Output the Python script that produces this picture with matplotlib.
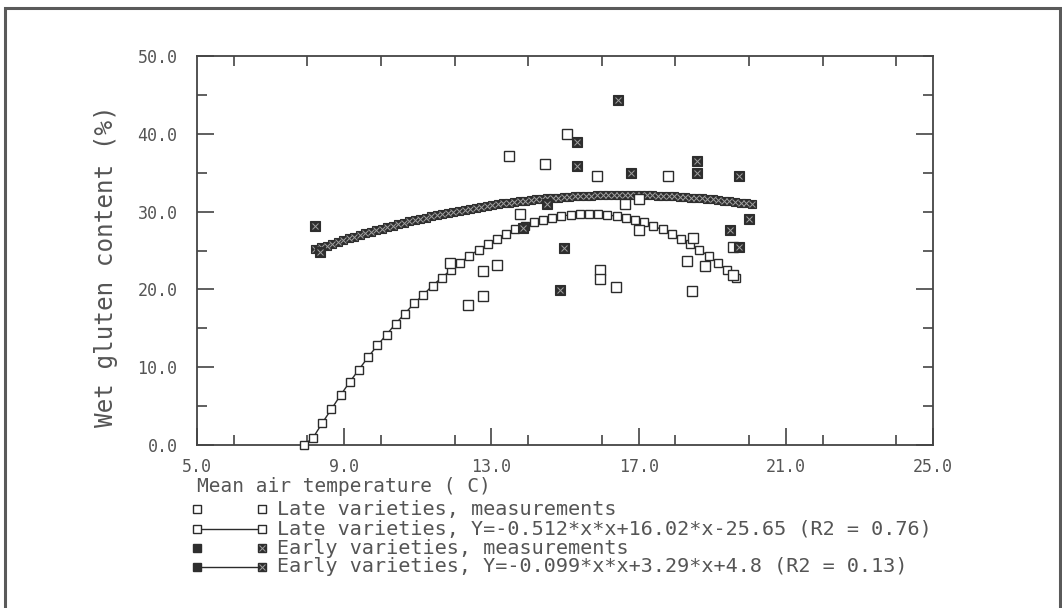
import matplotlib
matplotlib.use("Agg")
import matplotlib.pyplot as plt
from matplotlib.lines import Line2D
from matplotlib.patches import Rectangle
from matplotlib.ticker import MultipleLocator, FixedLocator

# ---- data ----
late_x = [11.88, 12.37, 12.76, 12.78, 13.14, 13.49, 13.78, 14.46, 15.05, 15.86, 15.95, 15.95,
          16.39, 16.63, 17.02, 17.02, 17.79, 18.31, 18.44, 18.49, 18.80, 19.56, 19.56]
late_y = [23.4, 18.0, 19.1, 22.4, 23.2, 37.1, 29.7, 36.1, 40.0, 34.6, 22.5, 21.4,
          20.3, 31.0, 31.6, 27.6, 34.6, 23.6, 19.8, 26.6, 23.0, 25.5, 21.9]

early_x = [8.21, 8.34, 13.85, 14.52, 14.86, 14.96, 15.32, 15.32, 16.45, 16.79,
           18.60, 18.60, 19.48, 19.73, 19.74, 19.99]
early_y = [28.1, 24.8, 27.9, 31.0, 19.9, 25.3, 39.0, 35.8, 44.4, 34.9,
           36.5, 35.0, 27.6, 34.6, 25.5, 29.0]

late_fit_x = [7.90, 8.15, 8.40, 8.65, 8.90, 9.15, 9.40, 9.65, 9.90, 10.15, 10.40, 10.65,
              10.90, 11.15, 11.40, 11.65, 11.90, 12.15, 12.40, 12.65, 12.90, 13.15, 13.40, 13.65,
              13.90, 14.15, 14.40, 14.65, 14.90, 15.15, 15.40, 15.65, 15.90, 16.15, 16.40, 16.65,
              16.90, 17.15, 17.40, 17.65, 17.90, 18.15, 18.40, 18.65, 18.90, 19.15, 19.40, 19.65]
late_fit_y = [0.0, 0.9, 2.8, 4.6, 6.4, 8.1, 9.7, 11.3, 12.8, 14.2, 15.6, 16.9,
              18.2, 19.3, 20.5, 21.5, 22.5, 23.4, 24.3, 25.1, 25.8, 26.5, 27.1, 27.7,
              28.1, 28.6, 28.9, 29.2, 29.4, 29.6, 29.7, 29.7, 29.7, 29.6, 29.4, 29.2,
              28.9, 28.6, 28.1, 27.7, 27.1, 26.5, 25.8, 25.1, 24.3, 23.4, 22.5, 21.5]

early_fit_x = [8.22, 8.37, 8.52, 8.67, 8.82, 8.97, 9.12, 9.27, 9.42, 9.57,
               9.72, 9.87, 10.02, 10.17, 10.32, 10.47, 10.62, 10.77, 10.92, 11.07,
               11.22, 11.37, 11.52, 11.67, 11.82, 11.97, 12.12, 12.27, 12.42, 12.57,
               12.72, 12.87, 13.02, 13.17, 13.32, 13.47, 13.62, 13.77, 13.92, 14.07,
               14.22, 14.37, 14.52, 14.67, 14.82, 14.97, 15.12, 15.27, 15.42, 15.57,
               15.72, 15.87, 16.02, 16.17, 16.32, 16.47, 16.62, 16.77, 16.92, 17.07,
               17.22, 17.37, 17.52, 17.67, 17.82, 17.97, 18.12, 18.27, 18.42, 18.57,
               18.72, 18.87, 19.02, 19.17, 19.32, 19.47, 19.62, 19.77, 19.92, 20.07]
early_fit_y = [25.14, 25.39, 25.63, 25.87, 26.11, 26.34, 26.56, 26.78, 27.00, 27.21,
               27.42, 27.62, 27.82, 28.01, 28.20, 28.39, 28.57, 28.74, 28.91, 29.08,
               29.24, 29.40, 29.56, 29.70, 29.85, 29.99, 30.13, 30.26, 30.38, 30.51,
               30.62, 30.74, 30.85, 30.95, 31.05, 31.15, 31.24, 31.33, 31.41, 31.49,
               31.56, 31.63, 31.69, 31.75, 31.81, 31.86, 31.91, 31.95, 31.99, 32.02,
               32.05, 32.07, 32.09, 32.11, 32.12, 32.13, 32.13, 32.13, 32.12, 32.11,
               32.09, 32.07, 32.05, 32.02, 31.99, 31.95, 31.91, 31.86, 31.81, 31.75,
               31.69, 31.63, 31.56, 31.49, 31.41, 31.33, 31.24, 31.15, 31.05, 30.95]

x_ticks = [5.0, 9.0, 13.0, 17.0, 21.0, 25.0]
y_ticks = [0.0, 10.0, 20.0, 30.0, 40.0, 50.0]

legend_labels = [
    "Late varieties, measurements",
    "Late varieties, Y=-0.512*x*x+16.02*x-25.65 (R2 = 0.76)",
    "Early varieties, measurements",
    "Early varieties, Y=-0.099*x*x+3.29*x+4.8 (R2 = 0.13)",
]

# ---- style ----
INK = "#2b2b2b"
TXT = "#555555"
FILL = "#2e2e2e"
HATCH = "#a0a0a0"
plt.rcParams['font.family'] = ['DejaVu Sans Mono']

W, H = 1062, 608
fig = plt.figure(figsize=(W / 100, H / 100), dpi=100)
ax = fig.add_axes([197 / W, 1 - 445 / H, 736 / W, 389 / H])

# outer frame of the figure panel
fig.add_artist(Rectangle((5 / W, -0.05), 1055 / W, 1.05 - 8 / H, transform=fig.transFigure,
                         fill=False, lw=2.2, ec="#5a5a5a"))


def early_marker(a, xs, ys, ms=6.2, **kw):
    a.plot(xs, ys, ls="none", marker="s", ms=ms, mfc=FILL, mec=FILL, mew=0.8, **kw)
    a.plot(xs, ys, ls="none", marker="x", ms=ms * 0.6, mec=HATCH, mew=0.7, **kw)


# fitted curves
ax.plot(late_fit_x, late_fit_y, color=INK, lw=1.0, marker="s", ms=6.2,
        mfc="white", mec=INK, mew=1.0, clip_on=False, zorder=3)
ax.plot(early_fit_x, early_fit_y, color=INK, lw=1.0, zorder=3)
early_marker(ax, early_fit_x, early_fit_y, zorder=3)

# measurements
ax.plot(late_x, late_y, ls="none", marker="s", ms=6.8, mfc="white", mec=INK, mew=1.0, zorder=4)
early_marker(ax, early_x, early_y, ms=6.8, zorder=4)

ax.set_xlim(5, 25)
ax.set_ylim(0, 50)
for s in ax.spines.values():
    s.set_color("#444444")
    s.set_linewidth(1.3)

ax.xaxis.set_major_locator(FixedLocator(x_ticks))
ax.xaxis.set_minor_locator(MultipleLocator(2))
ax.yaxis.set_major_locator(FixedLocator(y_ticks))
ax.yaxis.set_minor_locator(MultipleLocator(5))
ax.set_xticklabels([f"{v:.1f}" for v in x_ticks])
ax.set_yticklabels([f"{v:.1f}" for v in y_ticks])
ax.tick_params(which="both", direction="in", color="#444444", width=1.2,
               labelsize=12, labelcolor=TXT, top=True, right=False)
ax.tick_params(which="major", length=12)
ax.tick_params(which="minor", length=7)
ax.tick_params(axis="x", which="both", pad=9)
ax.tick_params(axis="y", which="both", pad=14)
ax.tick_params(axis="x", which="major", top=False)

# right side ticks: long every 20, short every 5
sec = ax.secondary_yaxis("right")
sec.yaxis.set_major_locator(FixedLocator([0, 20, 40]))
sec.yaxis.set_minor_locator(MultipleLocator(5))
sec.tick_params(which="both", direction="in", color="#444444", width=1.2, labelright=False)
sec.tick_params(which="major", length=12)
sec.tick_params(which="minor", length=7)
sec.spines["right"].set_visible(False)

# axis titles
fig.text(197 / W, 1 - 487 / H, "Mean air temperature ( C)", ha="left", va="center",
         fontsize=14, color=TXT)
fig.text(106 / W, 1 - 266 / H, "Wet gluten content (%)", ha="center", va="center",
         rotation=90, fontsize=17.5, color=TXT)

# legend drawn below the axes
rows_y = [509, 529, 548, 567]
hx0, hx1, tx = 197, 262, 277
for i, (ry, lab) in enumerate(zip(rows_y, legend_labels)):
    yy = 1 - ry / H
    xs = [hx0 / W, hx1 / W]
    if i in (1, 3):
        fig.add_artist(Line2D(xs, [yy, yy], transform=fig.transFigure, color=INK, lw=1.0))
    if i < 2:
        fig.add_artist(Line2D(xs, [yy, yy], transform=fig.transFigure, ls="none", marker="s",
                              ms=6.2, mfc="white", mec=INK, mew=1.0))
    else:
        fig.add_artist(Line2D(xs, [yy, yy], transform=fig.transFigure, ls="none", marker="s",
                              ms=6.2, mfc=FILL, mec=FILL))
        fig.add_artist(Line2D(xs[1:], [yy], transform=fig.transFigure, ls="none", marker="x",
                              ms=3.7, mec=HATCH, mew=0.7))
    fig.text(tx / W, yy, lab, ha="left", va="center", fontsize=14.5, color=TXT)

fig.savefig("out.png", dpi=100)
